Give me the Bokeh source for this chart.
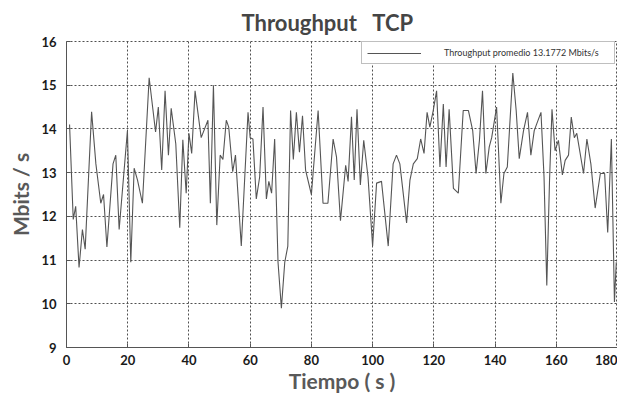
from bokeh.plotting import figure
from bokeh.models import Range1d, FixedTicker, Legend, LegendItem
from bokeh.embed import file_html
from bokeh.resources import INLINE

# ---- data ----
tiempo = [1.0, 2.2, 3.0, 4.1, 5.2, 6.1, 8.2, 9.6, 11.2, 12.1, 13.2, 15.2, 16.1, 17.2, 19.9,
          21.0, 22.1, 23.2, 24.8, 27.0, 29.1, 30.0, 31.1, 32.2, 33.3, 34.2, 35.7, 37.0, 38.0,
          39.1, 40.0, 40.9, 42.0, 44.0, 46.2, 47.0, 48.0, 49.1, 50.2, 51.1, 52.2, 53.0, 54.3,
          55.2, 57.1, 59.3, 60.0, 60.9, 62.0, 63.1, 64.2, 65.3, 66.1, 67.0, 68.0, 69.1, 70.2,
          71.3, 72.3, 73.2, 74.1, 75.1, 76.1, 77.1, 78.1, 80.0, 82.2, 83.8, 85.4, 87.1, 88.2,
          89.5, 91.2, 92.0, 93.1, 94.0, 94.9, 96.0, 97.1, 98.5, 100.0, 101.3, 102.9, 105.1,
          106.7, 107.8, 108.9, 111.1, 112.2, 113.3, 114.6, 115.7, 116.8, 117.8, 118.7, 119.8,
          120.9, 122.0, 123.1, 124.0, 125.0, 126.4, 128.0, 129.6, 131.3, 132.7, 133.8, 134.9,
          135.9, 137.0, 138.1, 138.9, 140.5, 141.9, 142.9, 144.0, 145.8, 146.9, 147.9, 149.3,
          150.6, 151.7, 152.8, 155.0, 156.0, 156.9, 157.8, 158.6, 159.6, 160.7, 162.0, 162.9,
          164.0, 164.9, 165.9, 166.7, 168.9, 170.0, 171.3, 172.7, 174.4, 175.8, 176.8, 178.0,
          179.0, 179.6]
throughput = [14.1, 11.93, 12.23, 10.83, 11.7, 11.25, 14.39, 13.2, 12.3, 12.5, 11.3, 13.2, 13.4,
              11.7, 13.96, 10.95, 13.1, 12.83, 12.3, 15.17, 13.93, 14.5, 13.06, 14.87, 13.4,
              14.47, 13.66, 11.74, 13.75, 12.53, 13.9, 13.44, 14.87, 13.8, 14.2, 12.3, 15.0,
              11.8, 13.4, 13.3, 14.2, 14.04, 13.02, 13.4, 11.32, 14.38, 13.8, 13.77, 12.4, 12.9,
              14.5, 12.4, 12.8, 12.53, 13.77, 10.95, 9.9, 10.95, 11.32, 14.42, 13.3, 14.38,
              13.47, 14.3, 13.06, 12.5, 14.42, 12.3, 12.3, 13.77, 13.36, 11.9, 13.17, 12.8,
              14.28, 12.83, 14.45, 12.72, 13.74, 12.9, 11.32, 12.76, 12.8, 11.32, 13.2, 13.4,
              13.2, 11.85, 12.83, 13.2, 13.32, 13.77, 13.44, 14.38, 14.04, 14.42, 14.87, 13.13,
              14.57, 13.13, 14.45, 12.64, 12.53, 14.42, 14.42, 13.96, 12.98, 13.74, 14.87, 12.98,
              13.59, 13.8, 14.5, 12.3, 12.98, 13.13, 15.28, 14.42, 13.32, 13.96, 14.38, 13.4,
              13.96, 14.38, 12.9, 10.42, 12.83, 14.45, 13.5, 13.74, 12.95, 13.28, 13.4, 14.27,
              13.8, 13.9, 12.98, 13.77, 13.2, 12.19, 12.98, 12.98, 11.63, 13.77, 10.04, 10.95]

x_ticks = [0, 20, 40, 60, 80, 100, 120, 140, 160, 180]
y_ticks = [9, 10, 11, 12, 13, 14, 15, 16]
legend_label = "Throughput promedio 13.1772 Mbits/s"
title_text = "Throughput\u00a0\u00a0\u00a0TCP"

FONT = "Lato"

p = figure(width=617, height=395, output_backend="svg", toolbar_location=None,
           x_range=Range1d(0, 180), y_range=Range1d(9, 16),
           min_border_left=66, min_border_right=0, min_border_top=40, min_border_bottom=46)

p.title.text = title_text
p.title.align = "left"
p.title.offset = 175
p.title.text_font = FONT
p.title.text_font_size = "22px"
p.title.text_font_style = "bold"
p.title.text_color = "#454545"
p.title.standoff = 12

r = p.line(tiempo, throughput, line_color="#555555", line_width=1.1)

p.xaxis.ticker = FixedTicker(ticks=x_ticks, num_minor_ticks=2)
p.yaxis.ticker = FixedTicker(ticks=y_ticks, num_minor_ticks=3)
p.xgrid.ticker = FixedTicker(ticks=x_ticks)
p.ygrid.ticker = FixedTicker(ticks=y_ticks)

for ax in (p.xaxis, p.yaxis):
    ax.major_label_text_font = FONT
    ax.major_label_text_font_size = "13px"
    ax.major_label_text_font_style = "bold"
    ax.major_label_text_color = "#1a1a1a"
    ax.axis_label_text_font = FONT
    ax.axis_label_text_font_size = "21px"
    ax.axis_label_text_font_style = "bold"
    ax.axis_label_text_color = "#595959"
    ax.axis_line_color = "#555555"
    ax.major_tick_line_color = "#555555"
    ax.minor_tick_line_color = "#555555"
    ax.major_tick_in = 4
    ax.major_tick_out = 0
    ax.minor_tick_in = 3
    ax.minor_tick_out = 0

p.xaxis.axis_label = "Tiempo ( s )"
p.yaxis.axis_label = "Mbits / s"
p.xaxis.major_label_standoff = 7
p.yaxis.major_label_standoff = 10
p.xaxis.axis_label_standoff = 0
p.yaxis.axis_label_standoff = 5

for g in (p.xgrid, p.ygrid):
    g.grid_line_color = "#505050"
    g.grid_line_dash = "2 2"
    g.grid_line_width = 1

p.outline_line_color = "#505050"
p.outline_line_dash = "2 2"
p.background_fill_color = "white"
p.border_fill_color = "white"

legend = Legend(items=[LegendItem(label=legend_label, renderers=[r])],
                location=(295, 283), margin=0, padding=5, spacing=0,
                glyph_width=54, glyph_height=10, label_standoff=23,
                label_width=165, label_height=10,
                label_text_font=FONT, label_text_font_size="9px",
                label_text_color="#333333",
                border_line_color="#7f7f7f", border_line_width=1,
                background_fill_color="white", background_fill_alpha=1)
p.add_layout(legend)

open("out.html", "w").write(file_html(p, INLINE))
